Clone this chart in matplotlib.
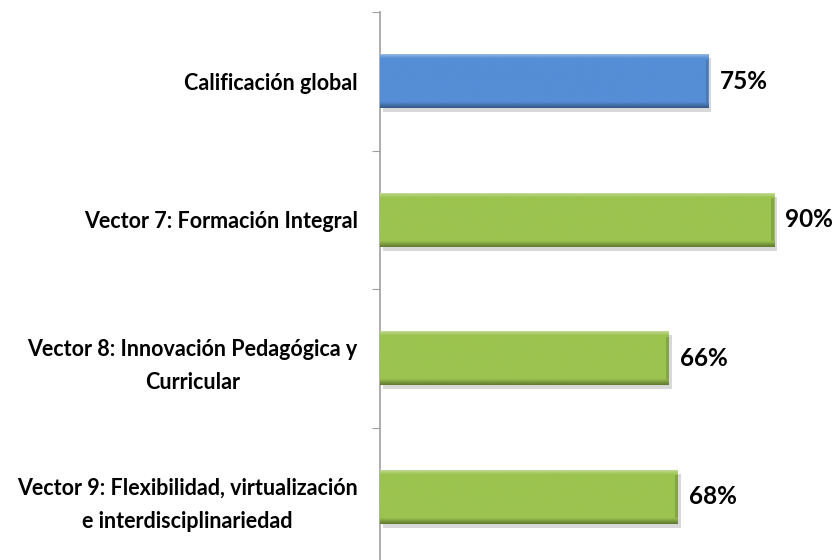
import numpy as np
import matplotlib.pyplot as plt
import matplotlib.patheffects as pe
from matplotlib.colors import to_rgb

categories = ["Calificación global",
              "Vector 7: Formación Integral",
              "Vector 8: Innovación Pedagógica y\nCurricular",
              "Vector 9: Flexibilidad, virtualización\ne interdisciplinariedad"]
values = [75, 90, 66, 68]
value_labels = ["75%", "90%", "66%", "68%"]
bar_colors = ["#558ed5", "#9bc34f", "#9bc34f", "#9bc34f"]

plt.rcParams["font.family"] = ["Lato", "DejaVu Sans"]

fig = plt.figure(figsize=(8.38, 5.6), dpi=100)
ax = fig.add_axes([380 / 838, 1 - 566 / 560, 1 - 380 / 838, 554 / 560])

ypos = np.arange(len(categories))
bar_h = 0.39

def shade(c, f):
    r = np.array(to_rgb(c))
    if f > 0:
        return r + (1 - r) * f
    return r * (1 + f)

bars = ax.barh(ypos, values, height=bar_h, color=bar_colors, edgecolor="none", zorder=2)
for b, c in zip(bars, bar_colors):
    b.set_path_effects([pe.SimplePatchShadow(offset=(2, -3), shadow_rgbFace="#909090", alpha=0.35), pe.Normal()])
    # bevel-like vertical gradient clipped to the bar
    n = 54
    rows = np.array([shade(c, 0.0)] * n)
    rows[:5] = [shade(c, 0.45), shade(c, 0.35), shade(c, 0.25), shade(c, 0.15), shade(c, 0.07)]
    rows[-6:] = [shade(c, -0.04), shade(c, -0.1), shade(c, -0.17), shade(c, -0.24), shade(c, -0.3), shade(c, -0.36)]
    img = rows[:, None, :]
    x0, y0 = b.get_x(), b.get_y()
    im = ax.imshow(img, extent=[x0, x0 + b.get_width(), y0 + b.get_height(), y0],
                   aspect="auto", zorder=3, interpolation="bilinear")
    im.set_clip_path(b)
    # slightly darker right end
    ax.barh(y0 + b.get_height() / 2, 0.6, left=x0 + b.get_width() - 0.6, height=b.get_height() * 0.8,
            color=shade(c, -0.15), edgecolor="none", zorder=4)

for y, v, lab in zip(ypos, values, value_labels):
    ax.text(v + 2.6, y, lab, va="center", ha="left", fontsize=17.5, fontweight="bold", color="#000000")

ax.set_xlim(0, 104.6)
ax.set_ylim(len(categories) - 0.5, -0.5)

ax.set_yticks(np.arange(-0.5, len(categories) + 0.5, 1))
ax.set_yticklabels([])
ax.set_yticks(ypos, minor=True)
ax.set_yticklabels(categories, minor=True, fontsize=15.5, fontweight="bold",
                   multialignment="center", linespacing=1.7)
ax.tick_params(axis="y", which="major", length=6, color="#a0a0a0", direction="out")
ax.tick_params(axis="y", which="minor", length=0, pad=16)
ax.set_xticks([])

for s in ["top", "right", "bottom"]:
    ax.spines[s].set_visible(False)
ax.spines["left"].set_color("#a0a0a0")
ax.spines["left"].set_linewidth(1.2)

fig.savefig("out.png", dpi=100)
